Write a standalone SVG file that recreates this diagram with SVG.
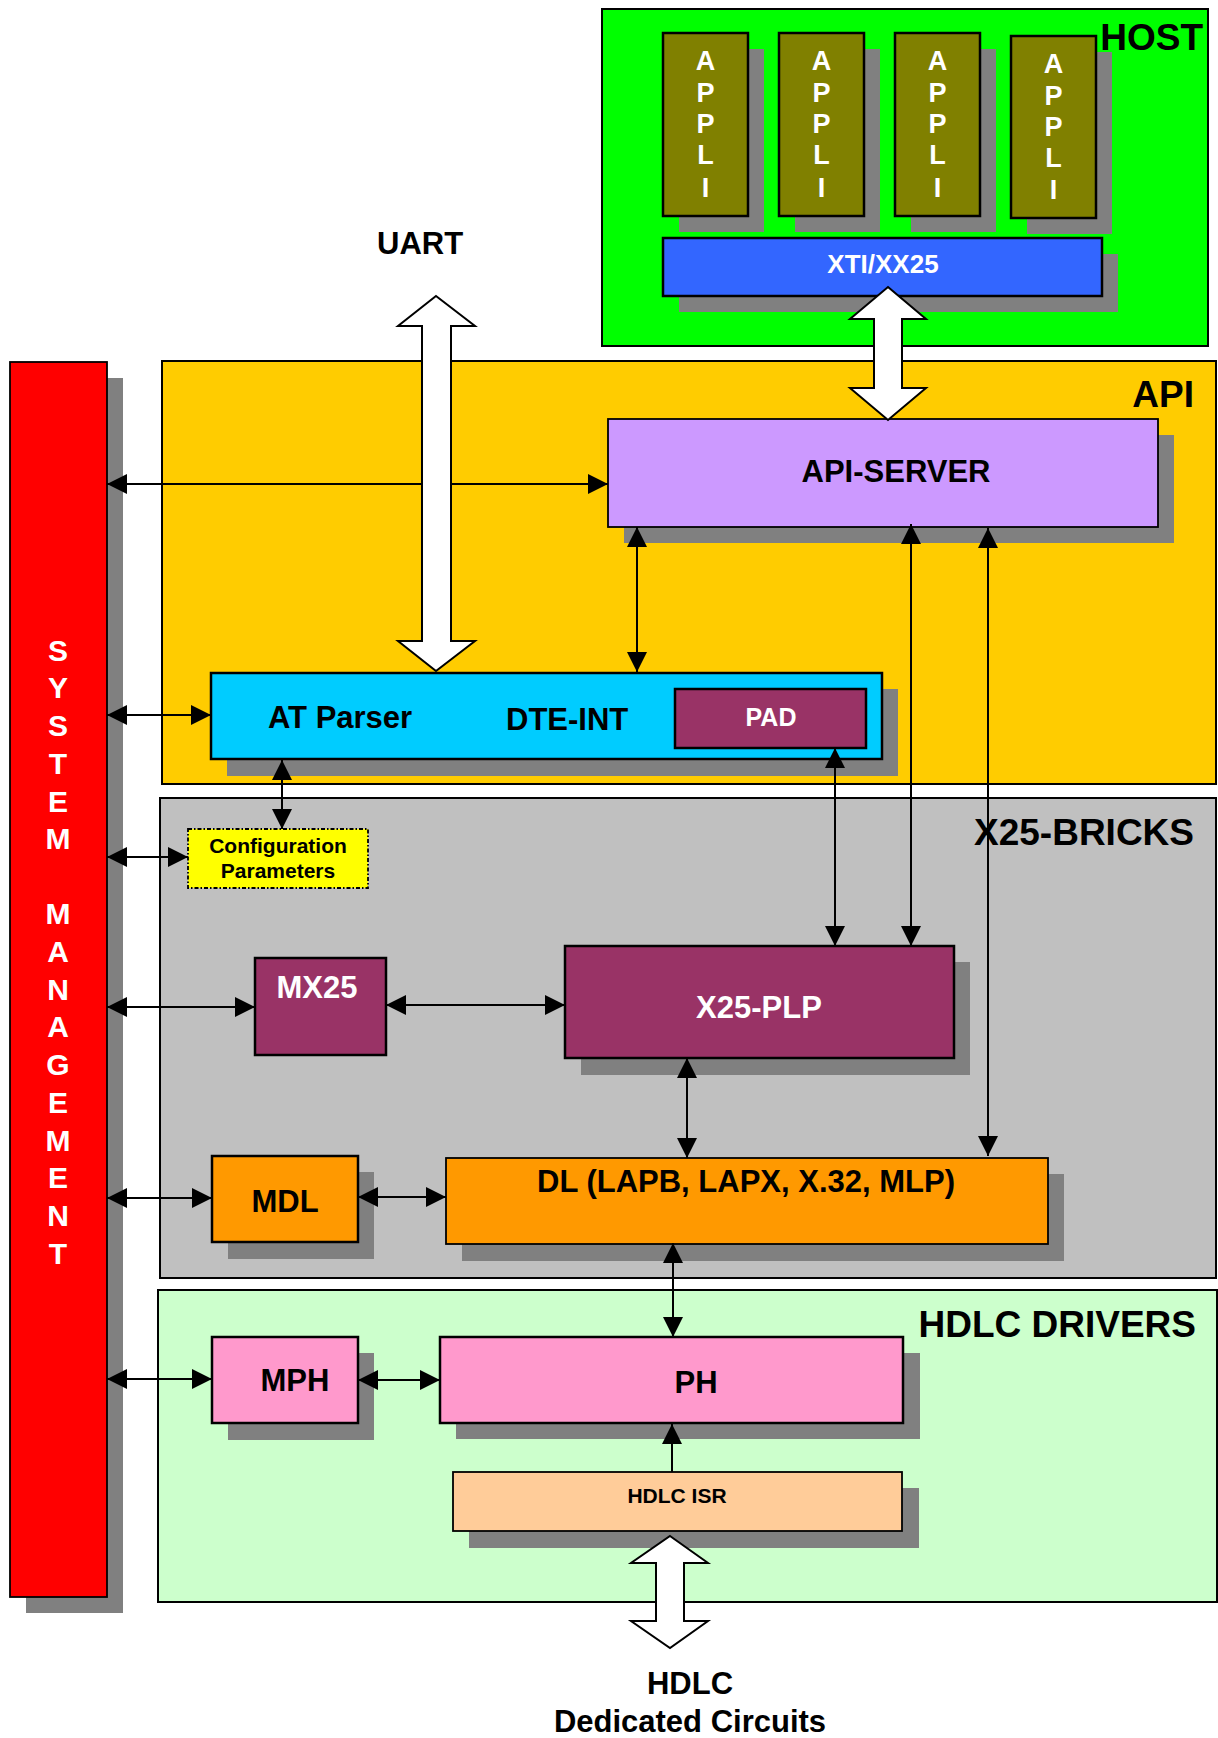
<svg xmlns="http://www.w3.org/2000/svg" width="1218" height="1738" viewBox="0 0 1218 1738">
<style>
text{font-family:"Liberation Sans",Arial,Helvetica,sans-serif;font-weight:bold}
.grp{stroke:#000;stroke-width:2}
.nd{stroke:#000;stroke-width:2.5}
.thin{stroke:#000;stroke-width:1.8}
.sh{fill:#808080}
.lbl{font-size:37px;fill:#000;text-anchor:end}
.big{font-size:31px;text-anchor:middle}
.w{fill:#fff}
.k{fill:#000}
.con line{stroke:#000;stroke-width:2}
.dbl{marker-start:url(#ah);marker-end:url(#ah)}
.blk{fill:#fff;stroke:#000;stroke-width:2}
.vert{font-size:27px;fill:#fff;text-anchor:middle}
</style>
<defs>
<marker id="ah" viewBox="0 0 10 10" refX="10" refY="5" markerWidth="20" markerHeight="20" markerUnits="userSpaceOnUse" orient="auto-start-reverse">
<path d="M0,0 L10,5 L0,10 z" fill="#000"/>
</marker>
</defs>

<g id="host">
<rect class="grp" x="602" y="9" width="606" height="337" fill="#00FF00"/>
<text class="lbl" x="1203" y="50">HOST</text>
</g>
<g id="appli1">
<rect class="sh" x="679" y="49" width="85" height="183"/>
<rect class="nd" x="663" y="33" width="85" height="183" fill="#808000"/>
<text class="vert"><tspan x="705.5" y="70">A</tspan><tspan x="705.5" y="102">P</tspan><tspan x="705.5" y="133">P</tspan><tspan x="705.5" y="164">L</tspan><tspan x="705.5" y="197">I</tspan></text>
</g>
<g id="appli2">
<rect class="sh" x="795" y="49" width="85" height="183"/>
<rect class="nd" x="779" y="33" width="85" height="183" fill="#808000"/>
<text class="vert"><tspan x="821.5" y="70">A</tspan><tspan x="821.5" y="102">P</tspan><tspan x="821.5" y="133">P</tspan><tspan x="821.5" y="164">L</tspan><tspan x="821.5" y="197">I</tspan></text>
</g>
<g id="appli3">
<rect class="sh" x="911" y="49" width="85" height="183"/>
<rect class="nd" x="895" y="33" width="85" height="183" fill="#808000"/>
<text class="vert"><tspan x="937.5" y="70">A</tspan><tspan x="937.5" y="102">P</tspan><tspan x="937.5" y="133">P</tspan><tspan x="937.5" y="164">L</tspan><tspan x="937.5" y="197">I</tspan></text>
</g>
<g id="appli4">
<rect class="sh" x="1027" y="52" width="85" height="182"/>
<rect class="nd" x="1011" y="36" width="85" height="182" fill="#808000"/>
<text class="vert"><tspan x="1053.5" y="73">A</tspan><tspan x="1053.5" y="105">P</tspan><tspan x="1053.5" y="136">P</tspan><tspan x="1053.5" y="167">L</tspan><tspan x="1053.5" y="199">I</tspan></text>
</g>
<g id="xti">
<rect class="sh" x="679" y="254" width="439" height="58"/>
<rect class="nd" x="663" y="238" width="439" height="58" fill="#3366FF"/>
<text class="w" x="883" y="273" font-size="26" text-anchor="middle">XTI/XX25</text>
</g>

<g id="api">
<rect class="grp" x="162" y="361" width="1054" height="423" fill="#FFCC00"/>
<text class="lbl" x="1194" y="407">API</text>
</g>
<g id="x25bricks">
<rect class="grp" x="160" y="798" width="1056" height="480" fill="#C0C0C0"/>
<text class="lbl" x="1194" y="845">X25-BRICKS</text>
</g>
<g id="hdlcdrivers">
<rect class="grp" x="158" y="1290" width="1059" height="312" fill="#CCFFCC"/>
<text class="lbl" x="1196" y="1337">HDLC DRIVERS</text>
</g>

<g id="sysmgmt">
<rect class="sh" x="26" y="378" width="97" height="1235"/>
<rect class="thin" x="10" y="362" width="97" height="1235" fill="#FF0000"/>
<text font-size="30" fill="#fff" text-anchor="middle"><tspan x="58" y="661">S</tspan><tspan x="58" y="698">Y</tspan><tspan x="58" y="736">S</tspan><tspan x="58" y="774">T</tspan><tspan x="58" y="812">E</tspan><tspan x="58" y="849">M</tspan><tspan x="58" y="924">M</tspan><tspan x="58" y="962">A</tspan><tspan x="58" y="1000">N</tspan><tspan x="58" y="1037">A</tspan><tspan x="58" y="1075">G</tspan><tspan x="58" y="1113">E</tspan><tspan x="58" y="1151">M</tspan><tspan x="58" y="1188">E</tspan><tspan x="58" y="1226">N</tspan><tspan x="58" y="1264">T</tspan></text>
</g>

<g id="apiserver">
<rect class="sh" x="624" y="435" width="550" height="108"/>
<rect class="thin" x="608" y="419" width="550" height="108" fill="#CC99FF"/>
<text class="big k" x="896" y="482">API-SERVER</text>
</g>
<g id="dteint">
<rect class="sh" x="227" y="689" width="671" height="87"/>
<rect class="nd" x="211" y="673" width="671" height="86" fill="#00CCFF"/>
<text class="k" x="268" y="728" font-size="31">AT Parser</text>
<text class="k" x="506" y="730" font-size="31">DTE-INT</text>
</g>
<g id="pad">
<rect class="nd" x="675" y="689" width="191" height="59" fill="#993366"/>
<text class="w" x="771" y="726" font-size="25" text-anchor="middle">PAD</text>
</g>
<g id="config">
<rect x="188" y="829" width="180" height="59" fill="#FFFF00" stroke="#000" stroke-width="1.8" stroke-dasharray="4,2,1.5,2"/>
<text class="k" x="278" y="853" font-size="21" text-anchor="middle">Configuration</text>
<text class="k" x="278" y="878" font-size="21" text-anchor="middle">Parameters</text>
</g>
<g id="mx25">
<rect class="nd" x="255" y="958" width="131" height="97" fill="#993366"/>
<text class="big w" x="317" y="998">MX25</text>
</g>
<g id="x25plp">
<rect class="sh" x="581" y="962" width="389" height="113"/>
<rect class="nd" x="565" y="946" width="389" height="112" fill="#993366"/>
<text class="big w" x="759" y="1018">X25-PLP</text>
</g>
<g id="mdl">
<rect class="sh" x="228" y="1172" width="146" height="87"/>
<rect class="nd" x="212" y="1156" width="146" height="86" fill="#FF9900"/>
<text class="big k" x="285" y="1212">MDL</text>
</g>
<g id="dl">
<rect class="sh" x="462" y="1174" width="602" height="87"/>
<rect class="thin" x="446" y="1158" width="602" height="86" fill="#FF9900"/>
<text class="big k" x="746" y="1192">DL (LAPB, LAPX, X.32, MLP)</text>
</g>
<g id="mph">
<rect class="sh" x="228" y="1353" width="146" height="87"/>
<rect class="nd" x="212" y="1337" width="146" height="86" fill="#FF99CC"/>
<text class="big k" x="295" y="1391">MPH</text>
</g>
<g id="ph">
<rect class="sh" x="456" y="1353" width="464" height="86"/>
<rect class="nd" x="440" y="1337" width="463" height="86" fill="#FF99CC"/>
<text class="big k" x="696" y="1393">PH</text>
</g>
<g id="hdlcisr">
<rect class="sh" x="469" y="1488" width="450" height="60"/>
<rect class="thin" x="453" y="1472" width="449" height="59" fill="#FFCC99"/>
<text class="k" x="677" y="1503" font-size="21" text-anchor="middle">HDLC ISR</text>
</g>

<g id="connectors" class="con">
<line class="dbl" x1="107" y1="484" x2="608" y2="484"/>
<line class="dbl" x1="107" y1="715" x2="211" y2="715"/>
<line class="dbl" x1="107" y1="857" x2="188" y2="857"/>
<line class="dbl" x1="107" y1="1007" x2="255" y2="1007"/>
<line class="dbl" x1="386" y1="1005" x2="565" y2="1005"/>
<line class="dbl" x1="107" y1="1198" x2="212" y2="1198"/>
<line class="dbl" x1="358" y1="1197" x2="446" y2="1197"/>
<line class="dbl" x1="107" y1="1379" x2="212" y2="1379"/>
<line class="dbl" x1="358" y1="1380" x2="440" y2="1380"/>
<line class="dbl" x1="637" y1="527" x2="637" y2="672"/>
<line class="dbl" x1="282" y1="760" x2="282" y2="829"/>
<line class="dbl" x1="835" y1="748" x2="835" y2="946"/>
<line class="dbl" x1="911" y1="524" x2="911" y2="946"/>
<line class="dbl" x1="988" y1="528" x2="988" y2="1156"/>
<line class="dbl" x1="687" y1="1058" x2="687" y2="1158"/>
<line class="dbl" x1="673" y1="1243" x2="673" y2="1337"/>
<line x1="672" y1="1472" x2="672" y2="1424" marker-end="url(#ah)"/>
<polygon class="blk" points="888,287 926,319 902,319 902,388 926,388 888,420 850,388 874,388 874,319 850,319"/>
<polygon class="blk" points="436,296 475,326 451,326 451,641 475,641 436,671 398,641 422,641 422,326 398,326"/>
<polygon class="blk" points="670,1536 708,1563 684,1563 684,1621 708,1621 670,1648 631,1621 656,1621 656,1563 631,1563"/>
</g>

<text class="k" x="377" y="254" font-size="31">UART</text>
<text class="k" x="690" y="1694" font-size="31" text-anchor="middle">HDLC</text>
<text class="k" x="690" y="1732" font-size="31" text-anchor="middle">Dedicated Circuits</text>
</svg>
